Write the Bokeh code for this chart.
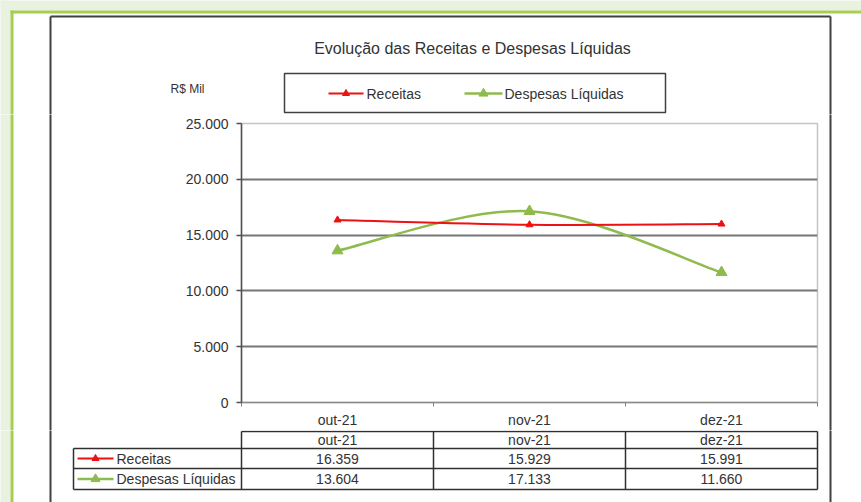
from bokeh.plotting import figure
from bokeh.layouts import column, row
from bokeh.models import Range1d, FixedTicker, ColumnDataSource
from bokeh.core.properties import value
from bokeh.embed import file_html
from bokeh.resources import INLINE

# ---------------- data ----------------
title_text = "Evolução das Receitas e Despesas Líquidas"
unit_text = "R$ Mil"
months = ["out-21", "nov-21", "dez-21"]
series_names = ["Receitas", "Despesas Líquidas"]
receitas = [16359, 15929, 15991]
despesas = [13604, 17133, 11660]
y_ticks = [0, 5000, 10000, 15000, 20000, 25000]
y_tick_labels = ["0", "5.000", "10.000", "15.000", "20.000", "25.000"]

# ---------------- style / layout (page pixel coordinates) ----------------
RED = "#ee1111"
GREEN = "#8fba4c"
TXT = "#333333"
FONT = "Liberation Sans"
PAGE_BG = "#e9f2e1"
FRAME_GREEN = "#a5cf4c"
BOX = "#404040"
IMG_W, IMG_H = 861, 502
S_TOP, S_BOT, S_L, S_R = 114, 430, 180, 819      # split lines between figures
FL, FR, FT, FB = 241, 817, 123, 403              # plot area
SERIES_STYLE = [(RED, 2, 7, 7), (GREEN, 2.5, 11, 9)]   # colour, width, marker, legend marker


def no_align(f):
    if "frame_align" in f.properties():
        f.frame_align = False
    return f


def deco_fig(x0, x1, y0, y1):
    f = figure(width=x1 - x0, height=y1 - y0, output_backend="svg",
               toolbar_location=None, x_range=Range1d(x0, x1),
               y_range=Range1d(y1, y0), x_axis_type=None, y_axis_type=None,
               min_border=0)
    no_align(f)
    f.outline_line_color = None
    f.background_fill_color = "white"
    f.border_fill_color = "white"
    # page background + green frame
    f.quad(left=[-20, -20], right=[IMG_W + 20, 10], top=[-20, -20],
           bottom=[10, IMG_H + 20], fill_color=PAGE_BG, line_color=None)
    f.quad(left=[10, 10], right=[IMG_W + 20, 13], top=[10, 10],
           bottom=[13, IMG_H + 20], fill_color=FRAME_GREEN, line_color=None)
    # chart box
    f.segment(x0=[50, 830, 50], y0=[16, 16, 16], x1=[50, 830, 830],
              y1=[IMG_H + 20, IMG_H + 20, 16], line_color=BOX, line_width=2)
    return f


def texts(f, xs, ys, labels, size="14px", align="left"):
    f.text(x=xs, y=ys, text=labels, text_font=value(FONT),
           text_font_size=value(size), text_align=align,
           text_baseline="middle", text_color=TXT)


def swatch(f, x0, x1, y, style):
    col, lw, _, ms = style
    f.segment(x0=[x0], y0=[y], x1=[x1], y1=[y], line_color=col, line_width=lw)
    f.scatter(x=[(x0 + x1) / 2], y=[y], marker="triangle", size=ms,
              fill_color=col, line_color=col)


# ---------------- top: title, unit, legend ----------------
top = deco_fig(0, IMG_W, 0, S_TOP)
texts(top, [472], [48], [title_text], size="16px", align="center")
texts(top, [170], [88], [unit_text], size="12px")
top.quad(left=[284], right=[665], top=[73], bottom=[112], fill_alpha=0,
         line_color=BOX, line_width=1.5)
leg_pos = [(328, 363, 366), (464, 502, 504)]
for (lx0, lx1, tx), name, st in zip(leg_pos, series_names, SERIES_STYLE):
    swatch(top, lx0, lx1, 93, st)
    texts(top, [tx], [93], [name])

# ---------------- middle: left strip, chart, right strip ----------------
left = deco_fig(0, S_L, S_TOP, S_BOT)
right = deco_fig(S_R, IMG_W, S_TOP, S_BOT)

p = figure(width=S_R - S_L, height=S_BOT - S_TOP, output_backend="svg",
           toolbar_location=None, x_range=Range1d(0, len(months)),
           y_range=Range1d(y_ticks[0], y_ticks[-1]),
           min_border_left=FL - S_L, min_border_right=S_R - FR,
           min_border_top=FT - S_TOP, min_border_bottom=S_BOT - FB)
no_align(p)
p.background_fill_color = "white"
p.border_fill_color = "white"
p.outline_line_color = "#c4c4c4"
p.outline_line_width = 1.5

p.yaxis.ticker = FixedTicker(ticks=y_ticks)
p.yaxis.major_label_overrides = dict(zip(y_ticks, y_tick_labels))
p.yaxis.major_tick_out = 5
p.yaxis.major_tick_in = 0
p.yaxis.minor_tick_out = 0
p.yaxis.axis_line_color = "#505050"
p.yaxis.axis_line_width = 1.5
p.yaxis.major_tick_line_color = "#505050"
p.yaxis.major_tick_line_width = 1.5
p.yaxis.major_label_text_font = FONT
p.yaxis.major_label_text_font_size = "14px"
p.yaxis.major_label_text_color = TXT
p.yaxis.major_label_standoff = 8

centers = [i + 0.5 for i in range(len(months))]
p.xaxis.ticker = FixedTicker(ticks=centers, minor_ticks=list(range(len(months) + 1)))
p.xaxis.major_label_overrides = dict(zip(centers, months))
p.xaxis.major_tick_out = 0
p.xaxis.major_tick_in = 0
p.xaxis.minor_tick_out = 4
p.xaxis.minor_tick_in = 0
p.xaxis.minor_tick_line_color = "#808080"
p.xaxis.axis_line_color = "#8a8a8a"
p.xaxis.axis_line_width = 1.5
p.xaxis.major_label_text_font = FONT
p.xaxis.major_label_text_font_size = "14px"
p.xaxis.major_label_text_color = TXT
p.xaxis.major_label_standoff = 5

p.xgrid.visible = False
p.ygrid.ticker = FixedTicker(ticks=y_ticks[1:-1])
p.ygrid.grid_line_color = "#767676"
p.ygrid.grid_line_width = 2


def bezier_segments(xs, ys):
    n = len(xs)
    out = dict(x0=[], y0=[], x1=[], y1=[], cx0=[], cy0=[], cx1=[], cy1=[])
    for i in range(n - 1):
        a = max(i - 1, 0)
        b = min(i + 2, n - 1)
        out["x0"].append(xs[i]); out["y0"].append(ys[i])
        out["x1"].append(xs[i + 1]); out["y1"].append(ys[i + 1])
        out["cx0"].append(xs[i] + (xs[i + 1] - xs[a]) / 6)
        out["cy0"].append(ys[i] + (ys[i + 1] - ys[a]) / 6)
        out["cx1"].append(xs[i + 1] - (xs[b] - xs[i]) / 6)
        out["cy1"].append(ys[i + 1] - (ys[b] - ys[i]) / 6)
    return out


for vals, st in [(despesas, SERIES_STYLE[1]), (receitas, SERIES_STYLE[0])]:
    col, lw, msize, _ = st
    seg = ColumnDataSource(bezier_segments(centers, vals))
    p.bezier(x0="x0", y0="y0", x1="x1", y1="y1", cx0="cx0", cy0="cy0",
             cx1="cx1", cy1="cy1", source=seg, line_color=col, line_width=lw)
    p.scatter(x=centers, y=vals, marker="triangle", size=msize,
              fill_color=col, line_color=col)

# ---------------- bottom: data table ----------------
bot = deco_fig(0, IMG_W, S_BOT, IMG_H)
ncol = len(months)
edges = [FL + i * (FR - FL) / ncol for i in range(ncol + 1)]
mids = [(edges[i] + edges[i + 1]) / 2 for i in range(ncol)]
T0, T1, T2, T3 = 431, 448, 468, 489
LX = 73
TL = "#303030"
bot.segment(x0=[FL, LX, LX, LX], y0=[T0, T1, T2, T3], x1=[FR] * 4,
            y1=[T0, T1, T2, T3], line_color=TL, line_width=1.5)
bot.segment(x0=[LX] + edges, y0=[T1] + [T0] * len(edges),
            x1=[LX] + edges, y1=[T3] * (len(edges) + 1), line_color=TL, line_width=1.5)

fmt = lambda v: f"{v:,}".replace(",", ".")
row_y = [(T0 + T1) / 2, (T1 + T2) / 2, (T2 + T3) / 2]
texts(bot, mids, [row_y[0]] * ncol, months, align="center")
texts(bot, mids, [row_y[1]] * ncol, [fmt(v) for v in receitas], align="center")
texts(bot, mids, [row_y[2]] * ncol, [fmt(v) for v in despesas], align="center")
for k, (name, st) in enumerate(zip(series_names, SERIES_STYLE)):
    swatch(bot, 77, 113, row_y[k + 1], st)
    texts(bot, [116], [row_y[k + 1]], [name])

layout = column(top, row(left, p, right), bot)
open("out.html", "w").write(file_html(layout, INLINE))
